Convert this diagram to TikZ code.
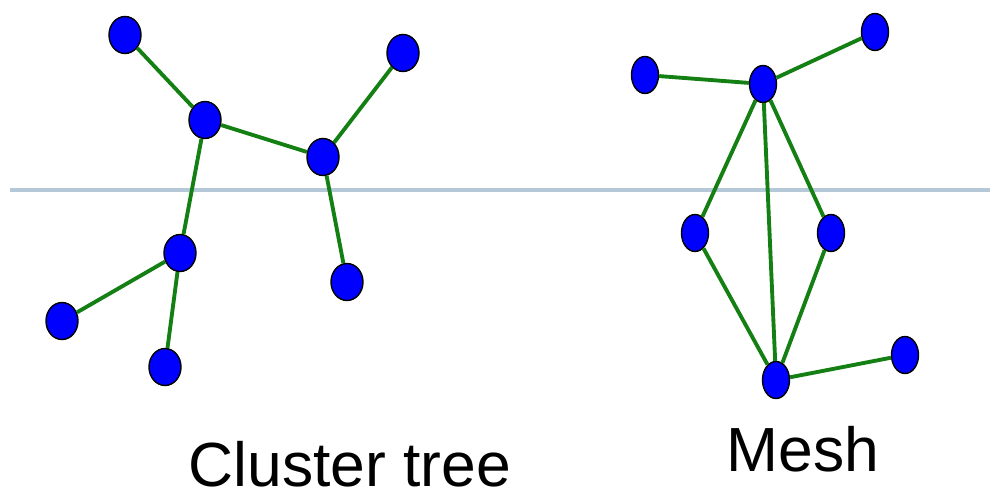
\documentclass[tikz,border=0pt]{standalone}
\usepackage{fontspec}
\setmainfont{Liberation Sans}
\usetikzlibrary{shapes.geometric}
\definecolor{linkgreen}{RGB}{20,128,20}
\definecolor{axisblue}{RGB}{180,200,215}
\tikzset{
  dot/.style = {ellipse, draw=black, thick, fill=blue, minimum width=0.64cm, minimum height=0.74cm, inner sep=0pt},
  slim/.style = {dot, minimum width=0.54cm},
  link/.style = {linkgreen, line width=2.2pt}
}
\begin{document}
\begin{tikzpicture}[x=0.02cm, y=-0.02cm]
\useasboundingbox (0,0) rectangle (998,500);
\draw[axisblue, line width=2.5pt] (10,190) -- (990,190);

% cluster tree
\node[dot] (a) at (125,35) {};
\node[dot] (b) at (205,120) {};
\node[dot] (c) at (323,157) {};
\node[dot] (d) at (403,53) {};
\node[dot] (e) at (180,253) {};
\node[dot] (f) at (347,282) {};
\node[dot] (g) at (62,321) {};
\node[dot] (h) at (165,367) {};
\draw[link] (a) -- (b);
\draw[link] (b) -- (c);
\draw[link] (c) -- (d);
\draw[link] (b) -- (e);
\draw[link] (c) -- (f);
\draw[link] (e) -- (g);
\draw[link] (e) -- (h);

% mesh
\node[slim] (m1) at (645,75) {};
\node[slim] (m2) at (763,84) {};
\node[slim] (m3) at (875,32) {};
\node[slim] (m4) at (695,233) {};
\node[slim] (m5) at (831,233) {};
\node[slim] (m6) at (776,380) {};
\node[slim] (m7) at (905,355) {};
\draw[link] (m1) -- (m2);
\draw[link] (m2) -- (m3);
\draw[link] (m2) -- (m4);
\draw[link] (m2) -- (m5);
\draw[link] (m2) -- (m6);
\draw[link] (m4) -- (m6);
\draw[link] (m5) -- (m6);
\draw[link] (m6) -- (m7);

\node[font=\fontsize{35.5}{40}\selectfont] (ctree) at (350,464) {Cluster tree};
\node[font=\fontsize{35.5}{40}\selectfont] (mesh) at (803,449) {Mesh};
\end{tikzpicture}
\end{document}
